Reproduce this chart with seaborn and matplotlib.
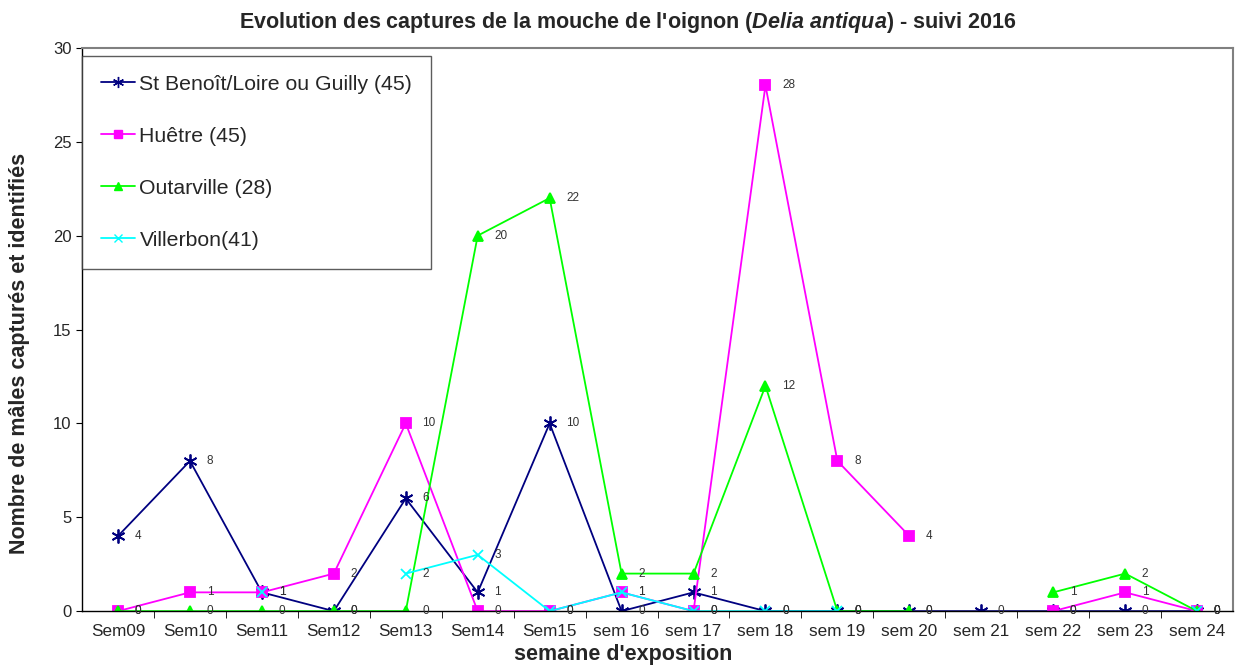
import seaborn as sns
import pandas as pd
import numpy as np
import matplotlib.pyplot as plt
from matplotlib.lines import Line2D

semaines = ['Sem09', 'Sem10', 'Sem11', 'Sem12', 'Sem13', 'Sem14', 'Sem15', 'sem 16',
            'sem 17', 'sem 18', 'sem 19', 'sem 20', 'sem 21', 'sem 22', 'sem 23', 'sem 24']

nan = np.nan
st_benoit = [4, 8, 1, 0, 6, 1, 10, 0, 1, 0, 0, 0, 0, 0, 0, 0]
huetre = [0, 1, 1, 2, 10, 0, 0, 1, 0, 28, 8, 4, nan, 0, 1, 0]
outarville = [0, 0, 0, 0, 0, 20, 22, 2, 2, 12, 0, 0, nan, 1, 2, 0]
villerbon = [nan, nan, 1, nan, 2, 3, 0, 1, 0, 0, 0, nan, nan, nan, nan, 0]

sites = ['St Benoît/Loire ou Guilly (45)', 'Huêtre (45)', 'Outarville (28)', 'Villerbon(41)']
series = [st_benoit, huetre, outarville, villerbon]
couleurs = ['#000080', '#FF00FF', '#00FF00', '#00FFFF']
marqueurs = [(6, 2, 0), 's', '^', 'x']
tailles = [10, 7, 7, 7]

# tableau long, un segment par portion continue (les trous coupent la ligne)
rows = []
for site, vals in zip(sites, series):
    seg = 0
    for i, v in enumerate(vals):
        if np.isnan(v):
            seg += 1
            continue
        rows.append({'site': site, 'x': i, 'y': v, 'unit': f'{site}-{seg}'})
df = pd.DataFrame(rows)

sns.set_style('white')
plt.rcParams['font.family'] = ['Liberation Sans', 'DejaVu Sans']
plt.rcParams['mathtext.fontset'] = 'custom'
plt.rcParams['mathtext.it'] = 'Liberation Sans:bold:italic'
plt.rcParams['mathtext.rm'] = 'Liberation Sans:bold'

fig, ax = plt.subplots(figsize=(12.43, 6.65), dpi=100)
fig.subplots_adjust(left=0.066, right=0.992, top=0.928, bottom=0.081)

for site, col, mk, ms in zip(sites, couleurs, marqueurs, tailles):
    d = df[df['site'] == site]
    sns.lineplot(data=d, x='x', y='y', units='unit', estimator=None, color=col,
                 marker=mk, markersize=ms, markeredgecolor=col, markeredgewidth=1.3,
                 linewidth=1.3, ax=ax, legend=False)

# étiquettes de valeurs
for vals in series:
    for i, v in enumerate(vals):
        if not np.isnan(v):
            ax.annotate(f'{int(v)}', (i, v), xytext=(12, 0), textcoords='offset points',
                        va='center', ha='left', fontsize=8.5, color='#333333')

ax.set_xlim(-0.5, len(semaines) - 0.5)
ax.set_ylim(0, 30)
ax.set_yticks(range(0, 31, 5))
ax.set_xticks(range(len(semaines)))
ax.set_xticklabels(semaines, fontsize=12.3)
ax.set_xticks(np.arange(0.5, len(semaines) - 0.5, 1), minor=True)
ax.tick_params(axis='x', which='major', length=0, pad=9)
ax.tick_params(axis='x', which='minor', length=5, color='black', direction='out', bottom=True)
ax.tick_params(axis='y', labelsize=12, length=4, color='black', direction='out', left=True)

for s in ['left', 'bottom']:
    ax.spines[s].set_color('black')
    ax.spines[s].set_linewidth(1.0)
for s in ['top', 'right']:
    ax.spines[s].set_color('#808080')
    ax.spines[s].set_linewidth(1.5)

fig.suptitle("Evolution des captures de la mouche de l'oignon ($\\mathit{Delia\\ antiqua}$) - suivi 2016",
             fontsize=15.5, fontweight='bold', x=0.505, y=0.985)
ax.set_xlabel("semaine d'exposition", fontsize=15.5, fontweight='bold')
ax.set_ylabel('Nombre de mâles capturés et identifiés', fontsize=15.5, fontweight='bold')
ax.xaxis.set_label_coords(0.47, -0.058)
ax.yaxis.set_label_coords(-0.045, 0.458)

handles = [Line2D([0], [0], color=c, marker=m, markersize=ms * 0.8, markeredgecolor=c, linewidth=1.3)
           for c, m, ms in zip(couleurs, marqueurs, tailles)]
leg = ax.legend(handles, sites, loc='upper left', bbox_to_anchor=(0.0, 0.986), fontsize=15.3,
                frameon=True, fancybox=False, edgecolor='#333333', handlelength=1.6,
                handletextpad=0.2, labelspacing=1.55, borderpad=0.9, borderaxespad=0.0)
leg.get_frame().set_linewidth(1.0)

fig.savefig('out.png', dpi=100)
